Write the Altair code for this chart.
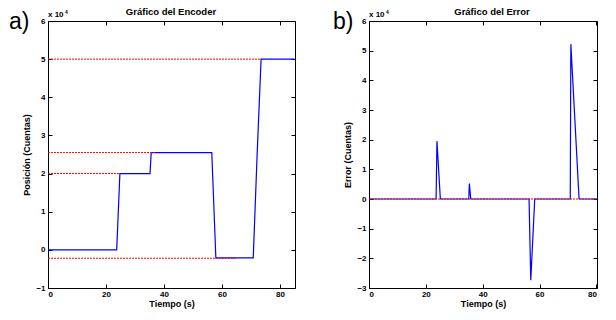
import altair as alt
import pandas as pd

FONT = "Liberation Sans"

# Panel a) encoder position (x 10^4 counts)
enc_t = [0, 23.7, 24.8, 35.2, 35.6, 56.5, 57.9, 70.8, 72.1, 73.5, 85]
enc_v = [0, 0, 2.0, 2.0, 2.55, 2.55, -0.21, -0.21, 2.43, 5.0, 5.0]
# reference (setpoint) segments
enc_ref_lvl = [5.0, 2.55, 2.0, -0.22]
enc_ref_end = [73.3, 37.2, 24.8, 64.8]

# Panel b) error (x 10^4 counts)
err_t = [0, 23.6, 23.9, 25.1, 35.1, 35.3, 35.8, 56.3, 56.9, 58.3, 70.8, 71.0, 73.9, 85]
err_v = [0, 0, 1.95, 0, 0, 0.52, 0, 0, -2.74, 0, 0, 5.22, 0, 0]
err_ref_lvl = [0.0]
err_ref_end = [85]

x_ticks = [0, 20, 40, 60, 80]
enc_y_ticks = [-1, 0, 1, 2, 3, 4, 5, 6]
err_y_ticks = [-3, -2, -1, 0, 1, 2, 3, 4, 5, 6]


def panel(t, v, lvl, end, xdom, ydom, yticks, title, ytitle, letter, letter_x, w, h, title_cx):
    line_df = pd.DataFrame({"t": t, "v": v})
    ref_df = pd.DataFrame({"x0": [0] * len(lvl), "x1": end, "lvl": lvl})
    xs = alt.Scale(domain=xdom, nice=False, zero=False)
    ys = alt.Scale(domain=ydom, nice=False, zero=False)

    common = dict(offset=-4, tickSize=4, domain=False, grid=False, tickColor="black", tickWidth=1,
                  minExtent=0)
    ax_x = alt.Axis(orient="bottom", values=x_ticks, title="Tiempo (s)", labelPadding=2,
                    titlePadding=1, **common)
    ax_y = alt.Axis(orient="left", values=yticks, title=ytitle, labelPadding=3,
                    titlePadding=4, **common)
    ax_top = alt.Axis(orient="top", values=x_ticks, labels=False, title=None, maxExtent=0, **common)
    ax_right = alt.Axis(orient="right", values=yticks, labels=False, title=None, maxExtent=0, **common)

    blue = alt.Chart(line_df).mark_line(color="#0000ff", strokeWidth=1.2, clip=True).encode(
        x=alt.X("t:Q", scale=xs, axis=ax_x),
        y=alt.Y("v:Q", scale=ys, axis=ax_y),
    )
    red = alt.Chart(ref_df).mark_rule(color="#ff0000", strokeWidth=1, strokeDash=[2, 1], clip=True).encode(
        x=alt.X("x0:Q", scale=xs, axis=None),
        x2="x1:Q",
        y=alt.Y("lvl:Q", scale=ys, axis=None),
    )
    frame = alt.Chart(line_df).mark_line(opacity=0, clip=True).encode(
        x=alt.X("t:Q", scale=xs, axis=ax_top),
        y=alt.Y("v:Q", scale=ys, axis=ax_right),
    )
    lab = pd.DataFrame({"s": ["x"]})
    mult = alt.Chart(lab).mark_text(text="x 10", font=FONT, fontWeight="bold", fontSize=8,
                                    align="left", baseline="alphabetic", color="black").encode(
        x=alt.value(0), y=alt.value(-4))
    sup = alt.Chart(lab).mark_text(text="4", font=FONT, fontWeight="bold", fontSize=5,
                                   align="left", baseline="alphabetic", color="black").encode(
        x=alt.value(17), y=alt.value(-7))
    let = alt.Chart(lab).mark_text(text=letter, font=FONT, fontSize=23,
                                   align="left", baseline="alphabetic", color="black").encode(
        x=alt.value(letter_x), y=alt.value(8))
    ttl = alt.Chart(lab).mark_text(text=title, font=FONT, fontWeight="bold", fontSize=9.5,
                                   align="center", baseline="alphabetic", color="black").encode(
        x=alt.value(title_cx), y=alt.value(-6))

    return alt.layer(blue, red, frame, mult, sup, let, ttl).resolve_axis(
        x="independent", y="independent"
    ).properties(width=w, height=h)


pa = panel(enc_t, enc_v, enc_ref_lvl, enc_ref_end, [0, 85.2], [-1, 6], enc_y_ticks,
           "Gráfico del Encoder", "Posición (Cuentas)", "a)", -39, 247, 267, 123)
pb = panel(err_t, err_v, err_ref_lvl, err_ref_end, [0, 80.2], [-3, 6], err_y_ticks,
           "Gráfico del Error", "Error (Cuentas)", "b)", -36, 228, 267, 123)

chart = alt.hconcat(pa, pb, spacing=36).properties(
    padding={"left": 0, "top": -2, "right": 0, "bottom": 0}
).configure_view(
    stroke="black", strokeWidth=1
).configure_axis(
    labelFont=FONT, labelFontSize=8, labelFontWeight="bold", labelColor="black",
    titleFont=FONT, titleFontSize=9, titleFontWeight="bold", titleColor="black",
)

chart.save("out.html", embed_options={"renderer": "svg", "actions": False})
